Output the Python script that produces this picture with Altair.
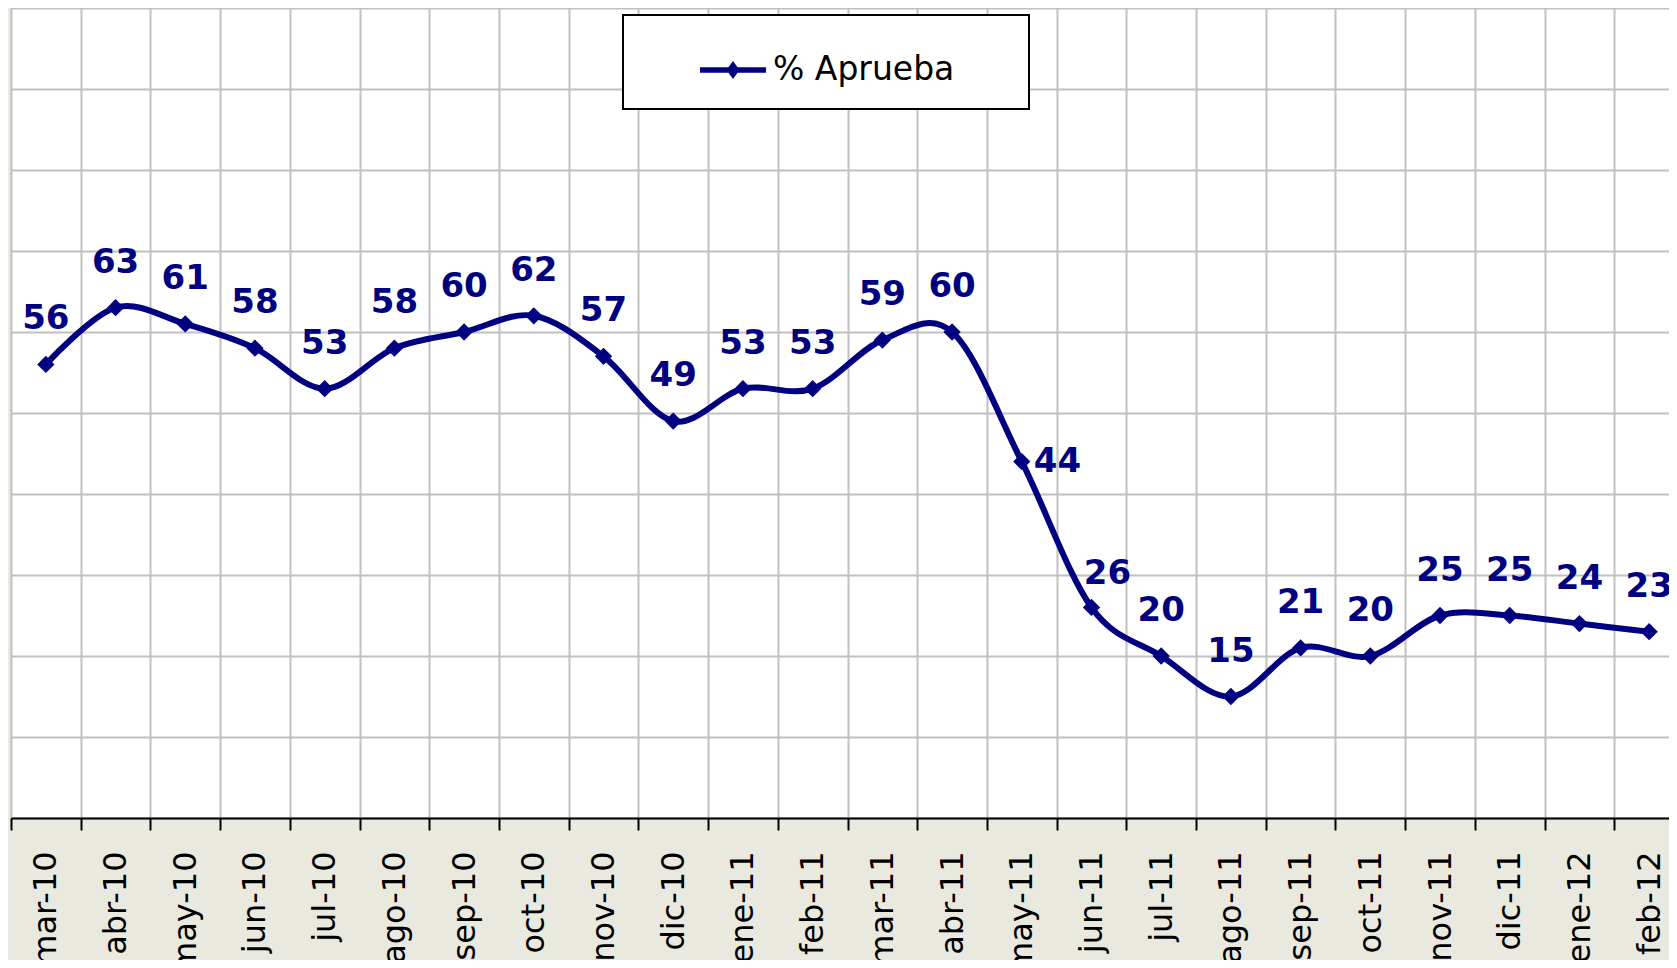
import altair as alt
import pandas as pd

meses = ["mar-10", "abr-10", "may-10", "jun-10", "jul-10", "ago-10", "sep-10",
         "oct-10", "nov-10", "dic-10", "ene-11", "feb-11", "mar-11", "abr-11",
         "may-11", "jun-11", "jul-11", "ago-11", "sep-11", "oct-11", "nov-11",
         "dic-11", "ene-12", "feb-12"]
aprueba = [56, 63, 61, 58, 53, 58, 60, 62, 57, 49, 53, 53, 59, 60, 44, 26, 20,
           15, 21, 20, 25, 25, 24, 23]
serie = "% Aprueba"

df = pd.DataFrame({"mes": meses, "valor": aprueba, "serie": serie})

NAVY = "#000080"
GRID = "#C0C0C0"
BG = "#EAE9DF"
FONT = "DejaVu Sans"

LEGEND_SYMBOL = ("M-1,-0.08H1V0.08H-1Z "
                 "M0,-0.27L0.2,0L0,0.27L-0.2,0Z")

x = alt.X(
    "mes:O", sort=meses,
    scale=alt.Scale(type="band", paddingInner=0, paddingOuter=0, range=[0, 1673]),
    axis=alt.Axis(title=None, labelAngle=-90, labelFontSize=32, labelFont=FONT,
                  labelColor="black", labelPadding=21, tickBand="extent",
                  tickSize=12, tickWidth=2, tickColor="black",
                  domainColor="black", domainWidth=2, grid=True,
                  gridColor=GRID, gridWidth=2),
)
y = alt.Y(
    "valor:Q", scale=alt.Scale(domain=[0, 100], nice=False),
    axis=alt.Axis(title=None, labels=False, ticks=False, domain=False,
                  tickCount=10, grid=True, gridColor=GRID, gridWidth=2),
)

base = alt.Chart(df).encode(x=x, y=y)

line = base.mark_line(color=NAVY, strokeWidth=6, interpolate="cardinal",
                      strokeCap="round", strokeJoin="round")

points = base.mark_point(shape="diamond", filled=True, size=300, opacity=1).encode(
    color=alt.Color(
        "serie:N",
        scale=alt.Scale(domain=[serie], range=[NAVY]),
        legend=alt.Legend(
            title=None, orient="none", legendX=612, legendY=7,
            fillColor="white", strokeColor="black", padding=22,
            symbolType=LEGEND_SYMBOL, symbolSize=4356, symbolStrokeWidth=0,
            symbolOffset=55, labelOffset=7, labelFontSize=33, labelFont=FONT,
            labelColor="black", labelLimit=600,
            labelExpr="datum.label + '\u00a0\u00a0\u00a0\u00a0\u00a0\u200b'",
        ),
    )
)

text_style = dict(font=FONT, fontSize=34, fontWeight="bold", color=NAVY,
                  baseline="middle")

labels = base.mark_text(dy=-45, **text_style).encode(text="valor:Q").transform_filter(
    "datum.mes != 'may-11' && datum.mes != 'jun-11'"
)
label_may = base.mark_text(dx=12, dy=0, align="left", **text_style).encode(
    text="valor:Q").transform_filter("datum.mes == 'may-11'")
label_jun = base.mark_text(dx=16, dy=-33, **text_style).encode(
    text="valor:Q").transform_filter("datum.mes == 'jun-11'")

chart = alt.layer(line, points, labels, label_may, label_jun).properties(
    width=1658, height=810,
    padding={"left": 3, "top": 0, "right": 0, "bottom": 142},
    autosize=alt.AutoSizeParams(type="none"),
    background=BG,
).configure_view(stroke="transparent", fill="white").configure_legend(strokeWidth=2)

chart.save("out.html", embed_options={"renderer": "svg", "actions": False})
